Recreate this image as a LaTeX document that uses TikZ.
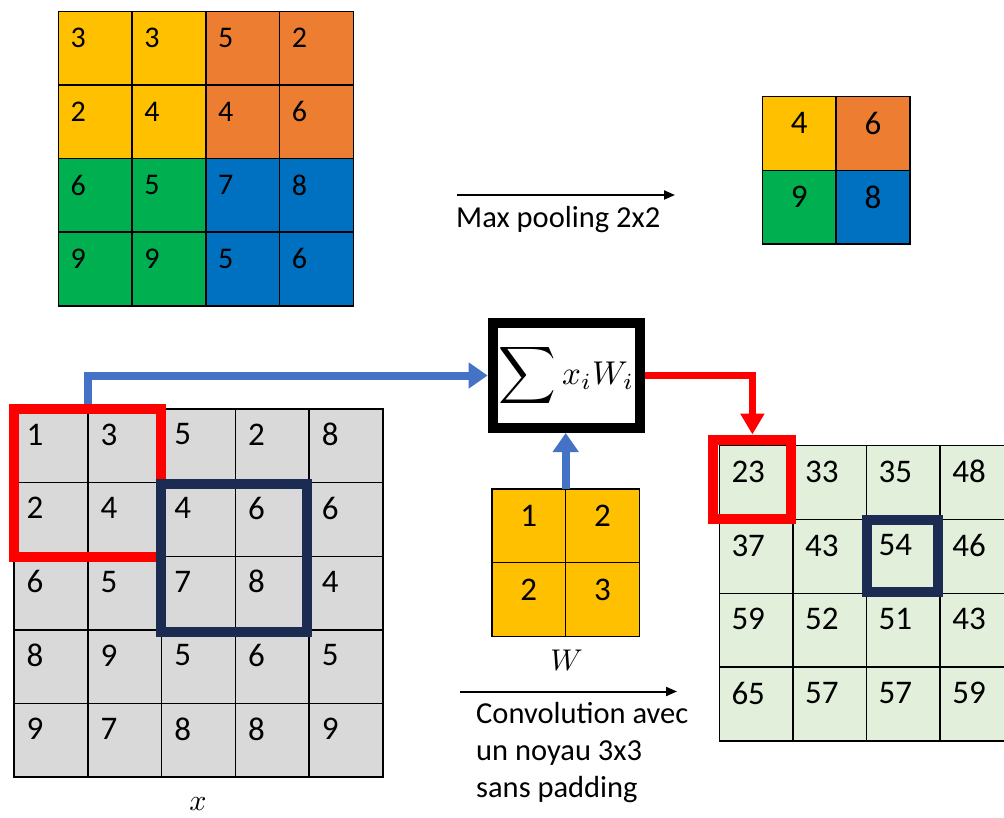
\documentclass[tikz,border=0pt]{standalone}
\usepackage{fontspec}
\setmainfont{Carlito}
\usepackage{graphicx}
\usetikzlibrary{arrows.meta}
\definecolor{cYel}{HTML}{FFC000}
\definecolor{cOra}{HTML}{ED7D31}
\definecolor{cGrn}{HTML}{00B050}
\definecolor{cBlu}{HTML}{0070C0}
\definecolor{cGray}{HTML}{D9D9D9}
\definecolor{cLGrn}{HTML}{E2EFDA}
\definecolor{cNavy}{HTML}{1B2B52}
\definecolor{cArrow}{HTML}{4472C4}
\definecolor{cRed}{HTML}{FF0000}
\begin{document}
\begin{tikzpicture}[x=1pt,y=-1pt,
  cell/.style={draw=black, line width=1.4pt, minimum size=73.7pt, inner sep=0pt, outer sep=0pt, anchor=north west},
  num/.style={anchor=west, inner sep=0pt, font=\fontsize{33}{34}\selectfont},
  cnum/.style={anchor=center, inner sep=0pt, font=\fontsize{33}{34}\selectfont},
  win/.style={draw, line width=10pt, inner sep=0pt},
  bluearr/.style={draw=cArrow, line width=8pt, -{Triangle[length=19pt,width=25pt]}},
  redarr/.style={draw=cRed, line width=7.5pt, -{Triangle[length=21pt,width=23pt]}},
  thinarr/.style={draw=black, line width=2pt, -{Triangle[length=11pt,width=9pt]}},
  lbl/.style={anchor=base west, inner sep=0pt, font=\fontsize{30.5}{36}\selectfont}]
\clip (0,0) rectangle (1004,818);
\fill[white] (0,0) rectangle (1004,818);
% top grid (max pooling input)
\foreach \row/\vals in {0/{3/cYel,3/cYel,5/cOra,2/cOra},1/{2/cYel,4/cYel,4/cOra,6/cOra},2/{6/cGrn,5/cGrn,7/cBlu,8/cBlu},3/{9/cGrn,9/cGrn,5/cBlu,6/cBlu}}{
  \foreach \v/\cc [count=\col from 0] in \vals {
    \node[cell, fill=\cc] (t-\row-\col) at ({58.3+\col*73.75},{11.7+\row*73.5}) {};
    \node[num, font=\fontsize{30}{32}\selectfont] (t-\row-\col-n) at ({58.3+\col*73.75+12},{11.7+\row*73.5+26.5}) {\v};
  }
}
% pooled grid
\foreach \row/\vals in {0/{4/cYel,6/cOra},1/{9/cGrn,8/cBlu}}{
  \foreach \v/\cc [count=\col from 0] in \vals {
    \node[cell, fill=\cc] (p-\row-\col) at ({762.3+\col*73.8},{96.7+\row*73.8}) {};
    \node[cnum] (p-\row-\col-n) at ({762.3+\col*73.8+36.9},{96.7+\row*73.8+26.5}) {\v};
  }
}
\coordinate (mpA) at (456.7,195);
\coordinate (mpB) at (675,195);
\draw[thinarr] (mpA) -- (mpB);
\node[lbl] (mplbl) at (456,228) {Max pooling 2x2};
% input x grid
\foreach \row/\vals in {0/{1,3,5,2,8},1/{2,4,4,6,6},2/{6,5,7,8,4},3/{8,9,5,6,5},4/{9,7,8,8,9}}{
  \foreach \v [count=\col from 0] in \vals {
    \node[cell, fill=cGray] (x-\row-\col) at ({14+\col*73.8},{409+\row*73.6}) {};
    \node[num] (x-\row-\col-n) at ({14+\col*73.8+12.5},{409+\row*73.6+25.5}) {\v};
  }
}
\node[inner sep=0pt] (xlbl) at (198,804) {\scalebox{3}{$x$}};
% kernel W
\foreach \row/\vals in {0/{1,2},1/{2,3}}{
  \foreach \v [count=\col from 0] in \vals {
    \node[cell, fill=cYel] (w-\row-\col) at ({492+\col*73.6},{489+\row*73.6}) {};
    \node[cnum] (w-\row-\col-n) at ({492+\col*73.6+36.8},{489+\row*73.6+27}) {\v};
  }
}
\node[inner sep=0pt] (wlbl) at (566.5,660) {\scalebox{3}{$W$}};
% output grid
\foreach \row/\vals in {0/{23,33,35,48},1/{37,43,54,46},2/{59,52,51,43},3/{65,57,57,59}}{
  \foreach \v [count=\col from 0] in \vals {
    \node[cell, fill=cLGrn] (o-\row-\col) at ({719.3+\col*73.6},{445.7+\row*73.8}) {};
    \node[num] (o-\row-\col-n) at ({719.3+\col*73.6+12},{445.7+\row*73.8+26}) {\v};
  }
}
% sum box
\node[win, draw=black, fill=white, minimum width=147.3pt, minimum height=105pt] (sum) at (566.3,375.5)
      {$\vcenter{\hbox{\scalebox{4.0}{$\displaystyle\sum$}}}\hspace{6pt}\vcenter{\hbox{\raisebox{-2pt}{\scalebox{3.3}{$x_iW_i$}}}}$};
% windows
\node[win, draw=cRed, minimum width=147pt, minimum height=147.5pt] (lwin) at (87.5,482.75) {};
\node[win, draw=cNavy, minimum width=146.3pt, minimum height=148pt] (lnav) at (233.85,558) {};
\node[win, draw=cRed, minimum width=78pt, minimum height=79.5pt] (rwin) at (752.4,479.25) {};
\node[win, draw=cNavy, minimum width=71.3pt, minimum height=72.5pt] (rnav) at (902.35,555.75) {};
% connectors
\draw[bluearr] (lwin.north) |- (sum.west);
\draw[bluearr] (w-0-0.north east) -- (w-0-0.north east |- sum.south);
\draw[redarr] (sum.east) -| (rwin.north);
% convolution arrow and label
\coordinate (cvA) at (460,691.5);
\coordinate (cvB) at (677,691.5);
\draw[thinarr] (cvA) -- (cvB);
\node[lbl] (cv1) at (476,723) {Convolution avec};
\node[lbl] (cv2) at (476,760) {un noyau 3x3};
\node[lbl] (cv3) at (476,797) {sans padding};
\end{tikzpicture}
\end{document}
